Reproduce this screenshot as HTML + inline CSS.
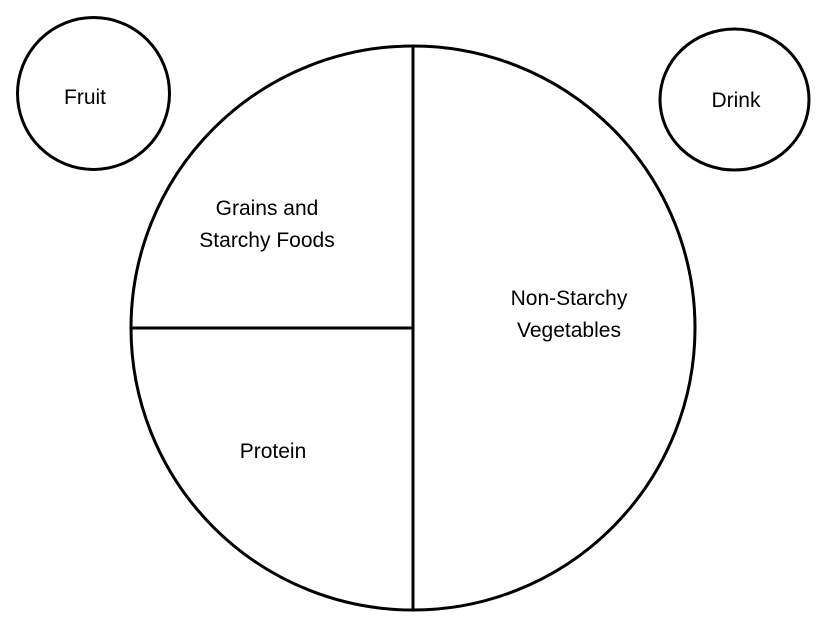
<!DOCTYPE html>
<html><head><meta charset="utf-8"><style>
html,body{margin:0;padding:0;background:#fff;}
svg{display:block;}
text{font-family:"Liberation Sans",sans-serif;font-size:21px;fill:#000;text-anchor:middle;}
</style></head><body>
<svg width="824" height="641" viewBox="0 0 824 641" xmlns="http://www.w3.org/2000/svg">
<rect width="824" height="641" fill="#fff"/>
<circle cx="413" cy="328" r="282" fill="none" stroke="#000" stroke-width="3"/>
<line x1="413" y1="46" x2="413" y2="610" stroke="#000" stroke-width="3"/>
<line x1="131" y1="328" x2="413" y2="328" stroke="#000" stroke-width="3"/>
<circle cx="93.5" cy="93.5" r="76" fill="none" stroke="#000" stroke-width="3"/>
<ellipse cx="734.5" cy="99.5" rx="74.5" ry="70.5" fill="none" stroke="#000" stroke-width="3"/>
<text x="85" y="104">Fruit</text>
<text x="736" y="107">Drink</text>
<text x="267" y="215">Grains and</text>
<text x="267" y="247">Starchy Foods</text>
<text x="569" y="305">Non-Starchy</text>
<text x="569" y="337">Vegetables</text>
<text x="273" y="458">Protein</text>
</svg>
</body></html>
